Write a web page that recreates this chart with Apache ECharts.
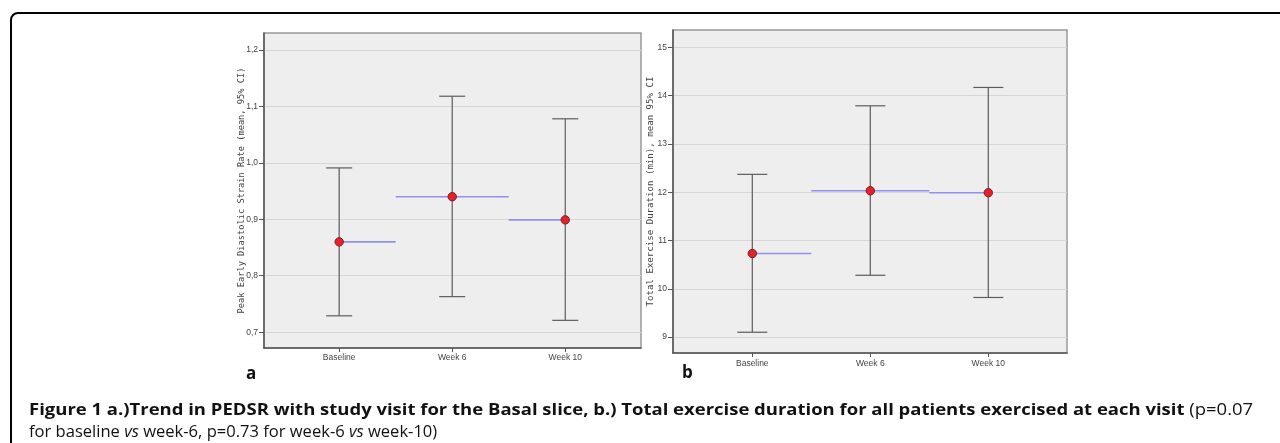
<!DOCTYPE html>
<html><head><meta charset="utf-8">
<script src="https://cdn.jsdelivr.net/npm/echarts@6/dist/echarts.min.js"></script>
<style>
html,body{margin:0;padding:0;width:1280px;height:443px;overflow:hidden;background:#fff;}
#chart{position:absolute;left:0;top:0;width:1280px;height:443px;}
.cap{position:absolute;left:29px;white-space:nowrap;font-family:'Open Sans',sans-serif;font-size:16.5px;line-height:16px;color:#111;transform-origin:0 0;}
.cap b{font-weight:700;}
</style></head><body>
<div id="chart"></div>
<div class="cap" id="cap1" style="top:401px"><b id="capBold">Figure 1 a.)Trend in PEDSR with study visit for the Basal slice, b.) Total exercise duration for all patients exercised at each visit</b> (p=0.07</div>
<div class="cap" id="cap2" style="top:423px">for baseline <i>vs</i> week-6, p=0.73 for week-6 <i>vs</i> week-10)</div>
<script>
// ---- data ----
const categories = ['Baseline', 'Week 6', 'Week 10'];
const categoryPos = [1, 2, 3];
const pedsrMean = [0.86, 0.94, 0.899];
const pedsrLow = [0.729, 0.763, 0.721];
const pedsrHigh = [0.991, 1.118, 1.078];
const pedsrTicks = [0.7, 0.8, 0.9, 1.0, 1.1, 1.2];
const durMean = [10.73, 12.03, 11.99];
const durLow = [9.10, 10.28, 9.82];
const durHigh = [12.37, 13.79, 14.17];
const durTicks = [9, 10, 11, 12, 13, 14, 15];
const pedsrTitle = 'Peak Early Diastolic Strain Rate (mean, 95% CI)';
const durTitle = 'Total Exercise Duration (min), mean 95% CI';

const chart = echarts.init(document.getElementById('chart'), null, {renderer: 'canvas'});

function makeData(mean, low, high) {
  return categoryPos.map((x, i) => [x, low[i], high[i], mean[i]]);
}

function renderer(capHalf) {
  return function (params, api) {
    const i = params.dataIndex;
    const n = categoryPos.length;
    const x = api.value(0), lo = api.value(1), hi = api.value(2), m = api.value(3);
    const pLo = api.coord([x, lo]);
    const pHi = api.coord([x, hi]);
    const pM = api.coord([x, m]);
    const x0 = i > 0 ? (categoryPos[i - 1] + x) / 2 : x;
    const x1 = i < n - 1 ? (categoryPos[i + 1] + x) / 2 : x;
    const b0 = api.coord([x0, m]);
    const b1 = api.coord([x1, m]);
    const barStyle = {stroke: '#5c5c5c', lineWidth: 1.2};
    return {
      type: 'group',
      children: [
        {type: 'line', shape: {x1: b0[0], y1: b0[1], x2: b1[0], y2: b1[1]}, style: {stroke: '#9090f0', lineWidth: 1.6}},
        {type: 'line', shape: {x1: pLo[0], y1: pLo[1], x2: pHi[0], y2: pHi[1]}, style: barStyle},
        {type: 'line', shape: {x1: pHi[0] - capHalf, y1: pHi[1], x2: pHi[0] + capHalf, y2: pHi[1]}, style: barStyle},
        {type: 'line', shape: {x1: pLo[0] - capHalf, y1: pLo[1], x2: pLo[0] + capHalf, y2: pLo[1]}, style: barStyle},
        {type: 'circle', shape: {cx: pM[0], cy: pM[1], r: 4.2}, style: {fill: '#e5222b', stroke: '#7a1c1c', lineWidth: 1}}
      ]
    };
  };
}

const tickLabelStyle = {fontSize: 8.5, color: '#444', fontFamily: 'Liberation Sans, Arial, sans-serif'};

function xAxisDef(gridIndex, min, max, margin) {
  return {
    type: 'value', gridIndex: gridIndex, min: min, max: max,
    axisLine: {show: true, lineStyle: {color: '#555', width: 1.5}},
    axisTick: {show: true, length: 4, customValues: categoryPos, lineStyle: {color: '#555'}},
    axisLabel: Object.assign({customValues: categoryPos, margin: margin,
      formatter: v => { const k = categoryPos.indexOf(Math.round(v)); return k >= 0 ? categories[k] : ''; }}, tickLabelStyle),
    splitLine: {show: false}
  };
}

function yAxisDef(gridIndex, min, max, ticks, fmt, name, nameSize, gap) {
  return {
    type: 'value', gridIndex: gridIndex, min: min, max: max, splitNumber: 5,
    name: name, nameLocation: 'middle', nameGap: gap, nameMoveOverlap: false,
    nameTextStyle: {fontFamily: 'DejaVu Sans Mono, Liberation Mono, monospace', fontSize: nameSize, color: '#444'},
    axisLine: {show: true, lineStyle: {color: '#555', width: 1.5}},
    axisTick: {show: true, length: 5, customValues: ticks, lineStyle: {color: '#555'}},
    axisLabel: Object.assign({customValues: ticks, margin: 6, formatter: fmt}, tickLabelStyle),
    splitLine: {show: true, lineStyle: {color: '#d6d6d6', width: 1}}
  };
}

chart.setOption({
  animation: false,
  backgroundColor: '#fff',
  grid: [
    {left: 264, top: 33, width: 377, height: 315, show: true, backgroundColor: '#eeeeee', borderColor: '#999', borderWidth: 1.5},
    {left: 673, top: 30, width: 394, height: 323, show: true, backgroundColor: '#eeeeee', borderColor: '#999', borderWidth: 1.5}
  ],
  xAxis: [
    xAxisDef(0, 0.335, 3.67, 5),
    xAxisDef(1, 0.328, 3.667, 6)
  ],
  yAxis: [
    yAxisDef(0, 0.672, 1.23, pedsrTicks, v => v.toFixed(1).replace('.', ','), pedsrTitle, 8.7, 18),
    yAxisDef(1, 8.67, 15.36, durTicks, v => String(Math.round(v)), durTitle, 9.1, 18)
  ],
  series: [
    {type: 'custom', xAxisIndex: 0, yAxisIndex: 0, renderItem: renderer(13), data: makeData(pedsrMean, pedsrLow, pedsrHigh), z: 10, clip: false},
    {type: 'custom', xAxisIndex: 1, yAxisIndex: 1, renderItem: renderer(15), data: makeData(durMean, durLow, durHigh), z: 10, clip: false}
  ],
  graphic: [
    {type: 'rect', shape: {x: 11, y: 13, width: 1500, height: 700, r: 7}, style: {fill: 'none', stroke: '#000', lineWidth: 2}, z: 0, silent: true},
    {type: 'text', left: 246, top: 366, style: {text: 'a', font: 'bold 17px "Open Sans", sans-serif', fill: '#111'}},
    {type: 'text', left: 682, top: 365, style: {text: 'b', font: 'bold 17px "Open Sans", sans-serif', fill: '#111'}}
  ]
});

function fitCaption() {
  const bold = document.getElementById('capBold');
  const cap2 = document.getElementById('cap2');
  const s1 = 1155 / bold.offsetWidth;
  const s2 = 408 / cap2.offsetWidth;
  document.getElementById('cap1').style.transform = 'scaleX(' + s1 + ')';
  cap2.style.transform = 'scaleX(' + s2 + ')';
}
fitCaption();
if (document.fonts && document.fonts.ready) document.fonts.ready.then(fitCaption);
</script>
</body></html>
